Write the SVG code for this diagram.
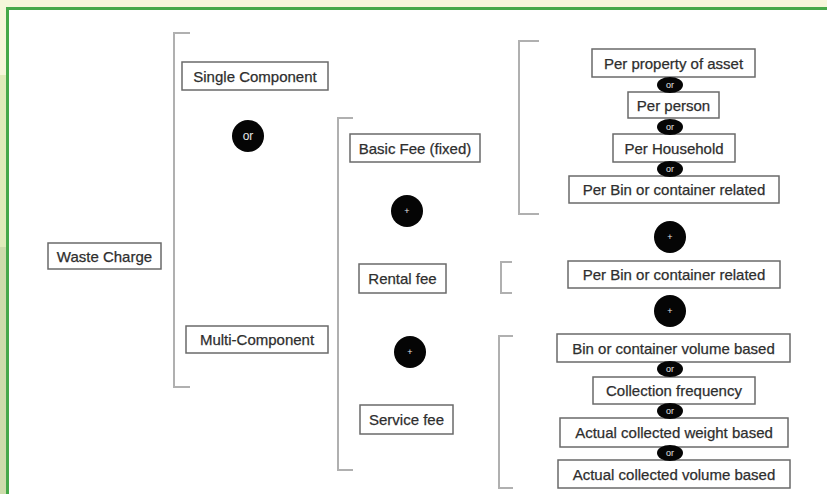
<svg xmlns="http://www.w3.org/2000/svg" width="827" height="494" viewBox="0 0 827 494">
<style>
.box{fill:#fff;stroke:#6a6a6a;stroke-width:1.5}
.t{font-family:"Liberation Sans",Arial,sans-serif;font-size:15px;fill:#2e2e2e;stroke:#2e2e2e;stroke-width:0.25;text-anchor:middle;dominant-baseline:central}
.br{fill:none;stroke:#b0b0b0;stroke-width:2}
.dot{fill:#050505}
.ot{font-family:"Liberation Sans",Arial,sans-serif;fill:#e6e6e6;text-anchor:middle;dominant-baseline:central}
</style>
<rect x="0" y="0" width="827" height="494" fill="#f6f6da"/>
<rect x="0" y="75" width="8" height="172" fill="#e0ebba"/>
<rect x="0" y="247" width="8" height="247" fill="#cddcab"/>
<rect x="7.5" y="8.5" width="830" height="500" fill="#fff" stroke="#46a849" stroke-width="3"/>

<g id="connectors">
<path class="br" d="M190 33 H174 V387 H190"/>
<path class="br" d="M353 118 H338 V470 H353"/>
<path class="br" d="M539 41 H519 V214 H539"/>
<path class="br" d="M512 262 H501 V293 H512"/>
<path class="br" d="M513 336 H499 V488 H513"/>
</g>

<g id="waste-charge"><rect class="box" x="48" y="243" width="113" height="26"/><text class="t" x="104.5" y="256.5">Waste Charge</text></g>
<g id="single-component"><rect class="box" x="182" y="62" width="146" height="28"/><text class="t" x="255" y="76">Single Component</text></g>
<g id="or-main"><circle class="dot" cx="248" cy="136" r="16"/><text class="ot" x="248" y="136" font-size="12">or</text></g>
<g id="multi-component"><rect class="box" x="186" y="326" width="142" height="27"/><text class="t" x="257" y="339.5">Multi-Component</text></g>

<g id="basic-fee"><rect class="box" x="350" y="134" width="130" height="28"/><text class="t" x="415" y="148">Basic Fee (fixed)</text></g>
<g id="plus-1"><circle class="dot" cx="407" cy="211" r="16"/><text class="ot" x="407" y="211" font-size="9">+</text></g>
<g id="rental-fee"><rect class="box" x="359" y="264" width="87" height="29"/><text class="t" x="402.5" y="278.5">Rental fee</text></g>
<g id="plus-2"><circle class="dot" cx="410" cy="352" r="16"/><text class="ot" x="410" y="352" font-size="9">+</text></g>
<g id="service-fee"><rect class="box" x="360" y="405" width="93" height="29"/><text class="t" x="406.5" y="419.5">Service fee</text></g>

<g id="per-property"><rect class="box" x="592" y="49" width="163" height="28"/><text class="t" x="673.5" y="63">Per property of asset</text></g>
<g id="per-person"><rect class="box" x="628" y="92" width="91" height="26"/><text class="t" x="673.5" y="105">Per person</text></g>
<g id="per-household"><rect class="box" x="613" y="134" width="122" height="28"/><text class="t" x="674" y="148">Per Household</text></g>
<g id="per-bin-1"><rect class="box" x="569" y="176" width="210" height="27"/><text class="t" x="674" y="189.5">Per Bin or container related</text></g>
<g id="or-a1"><ellipse class="dot" cx="670" cy="85" rx="13" ry="8"/><text class="ot" x="670" y="85" font-size="9">or</text></g>
<g id="or-a2"><ellipse class="dot" cx="670" cy="127" rx="13" ry="8"/><text class="ot" x="670" y="127" font-size="9">or</text></g>
<g id="or-a3"><ellipse class="dot" cx="670" cy="169" rx="13" ry="8"/><text class="ot" x="670" y="169" font-size="9">or</text></g>

<g id="plus-3"><circle class="dot" cx="670" cy="237" r="16"/><text class="ot" x="670" y="237" font-size="9">+</text></g>
<g id="per-bin-2"><rect class="box" x="568" y="261" width="212" height="27"/><text class="t" x="674" y="274.5">Per Bin or container related</text></g>
<g id="plus-4"><circle class="dot" cx="670" cy="311" r="16"/><text class="ot" x="670" y="311" font-size="9">+</text></g>

<g id="bin-volume"><rect class="box" x="557" y="334" width="233" height="28"/><text class="t" x="673.5" y="348">Bin or container volume based</text></g>
<g id="collection-frequency"><rect class="box" x="593" y="377" width="162" height="27"/><text class="t" x="674" y="390.5">Collection frequency</text></g>
<g id="actual-weight"><rect class="box" x="560" y="418" width="228" height="29"/><text class="t" x="674" y="432.5">Actual collected weight based</text></g>
<g id="actual-volume"><rect class="box" x="558" y="460" width="232" height="28"/><text class="t" x="674" y="474">Actual collected volume based</text></g>
<g id="or-b1"><ellipse class="dot" cx="670" cy="369" rx="13" ry="8"/><text class="ot" x="670" y="369" font-size="9">or</text></g>
<g id="or-b2"><ellipse class="dot" cx="670" cy="411" rx="13" ry="8"/><text class="ot" x="670" y="411" font-size="9">or</text></g>
<g id="or-b3"><ellipse class="dot" cx="670" cy="453" rx="13" ry="8"/><text class="ot" x="670" y="453" font-size="9">or</text></g>
</svg>
